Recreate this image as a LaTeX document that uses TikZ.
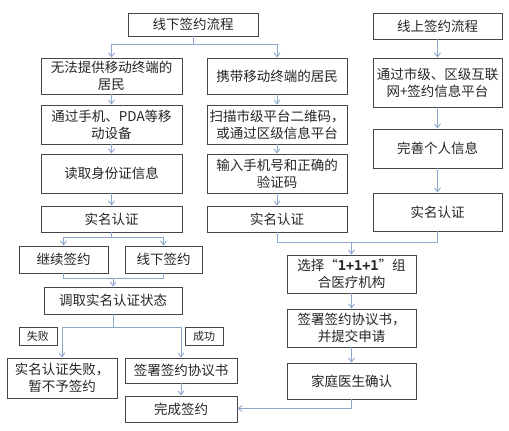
\documentclass[tikz,border=0pt]{standalone}
\usepackage{fontspec}
\setmainfont{Noto Sans CJK SC}
\newfontfamily\monofont{DejaVu Sans Mono}
\usetikzlibrary{arrows.meta}
\definecolor{conn}{RGB}{140,168,205}
\definecolor{bord}{RGB}{70,70,70}
\begin{document}
\begin{tikzpicture}[x=1pt,y=-1pt,
  box/.style={draw=bord,line width=0.9pt,fill=white,inner sep=1pt,align=center,
    font=\fontsize{13.5}{17}\selectfont,text=black!85},
  lab/.style={draw=bord,line width=0.8pt,fill=white,inner sep=1pt,align=center,
    font=\fontsize{11}{13}\selectfont,text=black!85},
  ln/.style={draw=conn,line width=0.9pt},
  arr/.style={ln,-{Straight Barb[length=4pt,width=6pt]}}]
\useasboundingbox (0,0) rectangle (509,431);
\fill[white] (0,0) rectangle (509,431);
% offline
\node[box,minimum width=130pt,minimum height=23pt] (top) at (193,24.5) {线下签约流程};
\node[box,minimum width=141pt,minimum height=36pt] (L1) at (111.5,76) {无法提供移动终端的\\居民};
\node[box,minimum width=141pt,minimum height=39pt] (L2) at (111.5,124.5) {通过手机、PDA等移\\动设备};
\node[box,minimum width=141pt,minimum height=39pt] (L3) at (111.5,173.5) {读取身份证信息};
\node[box,minimum width=141pt,minimum height=26pt] (L4) at (111.5,219) {实名认证};
\node[box,minimum width=140pt,minimum height=36pt] (M1) at (277,76) {携带移动终端的居民};
\node[box,minimum width=140pt,minimum height=39pt] (M2) at (277,124.5) {扫描市级平台二维码，\\或通过区级信息平台};
\node[box,minimum width=140pt,minimum height=39pt] (M3) at (277,173.5) {输入手机号和正确的\\验证码};
\node[box,minimum width=140pt,minimum height=26pt] (M4) at (277,219) {实名认证};
% online
\node[box,minimum width=129pt,minimum height=26pt] (R0) at (437.5,26) {线上签约流程};
\node[box,minimum width=129pt,minimum height=49pt] (R1) at (437.5,82.5) {通过市级、区级互联\\网+签约信息平台};
\node[box,minimum width=129pt,minimum height=39pt] (R2) at (437.5,148.5) {完善个人信息};
\node[box,minimum width=129pt,minimum height=38pt] (R3) at (437.5,212) {实名认证};
% lower left
\node[box,minimum width=89pt,minimum height=27pt] (C1) at (63.5,259.5) {继续签约};
\node[box,minimum width=77pt,minimum height=27pt] (C2) at (163.5,259.5) {线下签约};
\node[box,minimum width=138pt,minimum height=27pt] (D) at (113,300.5) {调取实名认证状态};
\node[lab,minimum width=38pt,minimum height=18pt] (fail) at (38,336) {失败};
\node[lab,minimum width=38pt,minimum height=18pt] (succ) at (204,336) {成功};
\node[box,minimum width=110pt,minimum height=40pt] (F) at (62,378) {实名认证失败，\\暂不予签约};
\node[box,minimum width=112pt,minimum height=25pt] (S) at (181,370.5) {签署签约协议书};
\node[box,minimum width=112pt,minimum height=26pt] (Done) at (181,409) {完成签约};
% lower right
\node[box,minimum width=129pt,minimum height=38pt] (E1) at (351.5,274) {选择“{\monofont\bfseries 1+1+1}”组\\合医疗机构};
\node[box,minimum width=129pt,minimum height=38pt] (E2) at (351.5,328) {签署签约协议书，\\并提交申请};
\node[box,minimum width=129pt,minimum height=36pt] (E3) at (351.5,381) {家庭医生确认};
% connectors
\draw[ln] (top.south) -- ++(0,8) coordinate (j1);
\draw[arr] (j1) -| (L1.north);
\draw[arr] (j1) -| (M1.north);
\draw[arr] (L1) -- (L2);
\draw[arr] (L2) -- (L3);
\draw[arr] (L3) -- (L4);
\draw[arr] (M1) -- (M2);
\draw[arr] (M2) -- (M3);
\draw[arr] (M3) -- (M4);
\draw[arr] (R0) -- (R1);
\draw[arr] (R1) -- (R2);
\draw[arr] (R2) -- (R3);
\draw[ln] (L4.south) -- ++(0,5) coordinate (j2);
\draw[arr] (j2) -| (C1.north);
\draw[arr] (j2) -| (C2.north);
\draw[ln] (C1.south) -- ++(0,5) coordinate (j3) -| (C2.south);
\draw[arr] (j3 -| D.north) -- (D.north);
\draw[ln] (D.south) -- ++(0,13) coordinate (j4);
\draw[arr] (j4) -| (F.north);
\draw[arr] (j4) -| (S.north);
\draw[arr] (S) -- (Done);
\draw[ln] (M4.south) -- ++(0,10) coordinate (j5) -| (R3.south);
\draw[arr] (j5 -| E1.north) -- (E1.north);
\draw[arr] (E1) -- (E2);
\draw[arr] (E2) -- (E3);
\draw[ln] (E3.south) -- ++(0,9) coordinate (j6);
\draw[arr] (j6) -- (j6 -| Done.east);
\end{tikzpicture}
\end{document}
